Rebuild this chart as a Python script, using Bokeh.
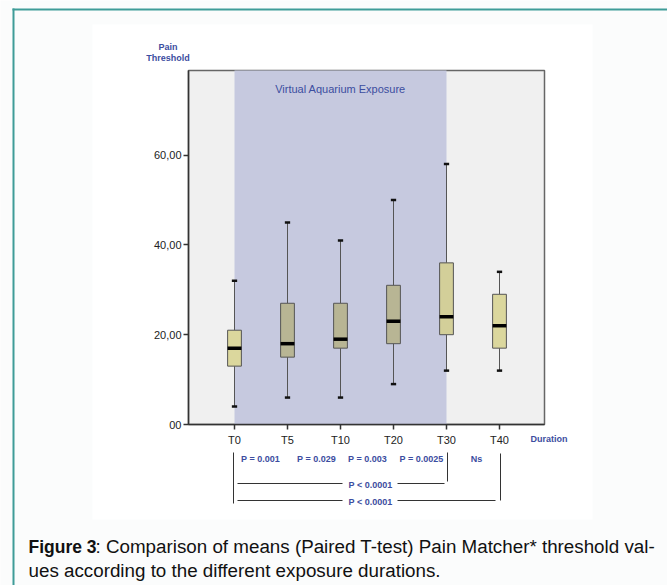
from bokeh.plotting import figure
from bokeh.models import Range1d, Label, BoxAnnotation, Arrow, FixedTicker, LinearAxis
from bokeh.embed import file_html
from bokeh.resources import INLINE

# ---- data ----
durations = ["T0", "T5", "T10", "T20", "T30", "T40"]
whisker_low = [4, 6, 6, 9, 12, 12]
q1 = [13, 15, 17, 18, 20, 17]
median = [17, 18, 19, 23, 24, 22]
q3 = [21, 27, 27, 31, 36, 29]
whisker_high = [32, 45, 41, 50, 58, 34]
box_colors = ["#dbd79d", "#b8b594", "#b8b594", "#b8b594", "#d3cf99", "#dbd79d"]
y_ticks = [0, 20, 40, 60]
y_tick_labels = ["00", "20,00", "40,00", "60,00"]
pairwise_p = ["P = 0.001", "P = 0.029", "P = 0.003", "P = 0.0025", "Ns"]
overall_p = ["P < 0.0001", "P < 0.0001"]
exposure_start, exposure_end = "T0", "T30"

# ---- layout constants (pixels of the 667x585 page) ----
W, H = 667, 585
PX_PER_CAT = 53.0
PX_PER_UNIT = 4.49
X0_PX, Y0_PX = 234, 424          # page position of T0 / value 0
pos = list(range(len(durations)))
xi = dict(zip(durations, pos))
pair_label_px = [260, 316, 367, 421, 476]

x_lo = -X0_PX / PX_PER_CAT
x_hi = (W - X0_PX) / PX_PER_CAT
y_lo = -(H - Y0_PX) / PX_PER_UNIT
y_hi = Y0_PX / PX_PER_UNIT
plot_left = (188 - X0_PX) / PX_PER_CAT
plot_right = (544 - X0_PX) / PX_PER_CAT
plot_top = (Y0_PX - 70) / PX_PER_UNIT

BLUE = "#3c4da0"
FONT = "'Liberation Sans', Arial, sans-serif"

p = figure(x_range=Range1d(x_lo, x_hi), y_range=Range1d(y_lo, y_hi),
           width=W, height=H, output_backend="svg", toolbar_location=None,
           x_axis_type=None, y_axis_type=None,
           min_border=0, min_border_left=0, min_border_right=0,
           min_border_top=0, min_border_bottom=0)
p.background_fill_color = "#fbfcfc"
p.border_fill_color = "#fbfcfc"
p.outline_line_color = None
p.grid.visible = False

# figure panel (slightly whiter) and teal frame
p.add_layout(BoxAnnotation(left=92, right=592, top=H - 24, bottom=H - 519,
                           left_units="screen", right_units="screen",
                           top_units="screen", bottom_units="screen",
                           fill_color="#ffffff", fill_alpha=1, line_color=None, level="underlay"))
p.add_layout(BoxAnnotation(left=12, right=W, top=H - 8, bottom=H - 10,
                           left_units="screen", right_units="screen",
                           top_units="screen", bottom_units="screen",
                           fill_color="#3f9c98", fill_alpha=1, line_color=None))
p.add_layout(BoxAnnotation(left=12, right=14, top=H - 8, bottom=0,
                           left_units="screen", right_units="screen",
                           top_units="screen", bottom_units="screen",
                           fill_color="#3f9c98", fill_alpha=1, line_color=None))

# plot area + exposure shading
p.quad(left=[plot_left], right=[plot_right], bottom=[0], top=[plot_top],
       fill_color="#f0f0f0", line_color="#666666", line_width=1.5)
p.quad(left=[xi[exposure_start]], right=[xi[exposure_end]], bottom=[0], top=[plot_top],
       fill_color="#c6c9df", line_color=None)

# whiskers
p.segment(x0=pos, y0=whisker_low, x1=pos, y1=q1, line_color="#555555", line_width=1)
p.segment(x0=pos, y0=q3, x1=pos, y1=whisker_high, line_color="#555555", line_width=1)
p.rect(x=pos, y=whisker_low, width=0.1, height=2.5, height_units="screen",
       fill_color="#111111", line_color=None)
p.rect(x=pos, y=whisker_high, width=0.1, height=2.5, height_units="screen",
       fill_color="#111111", line_color=None)
# boxes
p.vbar(x=pos, width=0.26, bottom=q1, top=q3, fill_color=box_colors,
       line_color="#555555", line_width=1)
p.rect(x=pos, y=median, width=0.26, height=3.5, height_units="screen",
       fill_color="#000000", line_color=None)

# axes at fixed locations
yax = LinearAxis(fixed_location=plot_left, bounds=(0, plot_top),
                 ticker=FixedTicker(ticks=y_ticks),
                 major_label_overrides=dict(zip(y_ticks, y_tick_labels)))
xax = LinearAxis(fixed_location=0, bounds=(plot_left, plot_right),
                 ticker=FixedTicker(ticks=pos),
                 major_label_overrides=dict(zip(pos, durations)))
for ax in (xax, yax):
    ax.axis_line_color = "#333333"
    ax.axis_line_width = 1.5
    ax.major_tick_line_color = "#333333"
    ax.major_tick_line_width = 1.5
    ax.major_tick_in = 0
    ax.major_tick_out = 5
    ax.minor_tick_line_color = None
    ax.major_label_text_font = FONT
    ax.major_label_text_font_size = "11px"
    ax.major_label_text_color = "#222222"
    ax.major_label_standoff = 2
xax.major_label_standoff = 4
p.add_layout(yax, "left")
p.add_layout(xax, "below")


def lab(text, x, y, size="9px", style="bold", color=BLUE, align="center",
        baseline="middle", xu="screen"):
    """x in page px (or data when xu='data'); y in page px from top."""
    p.add_layout(Label(x=x, y=H - y, x_units=xu, y_units="screen", text=text,
                       text_font=FONT, text_font_size=size, text_font_style=style,
                       text_color=color, text_align=align, text_baseline=baseline))


def seg(x0, y0, x1, y1, color="#333333", w=1):
    p.add_layout(Arrow(end=None, x_start=x0, y_start=H - y0, x_end=x1, y_end=H - y1,
                       start_units="screen", end_units="screen",
                       line_color=color, line_width=w))


lab("Pain", 167.5, 46)
lab("Threshold", 167.5, 57)
lab("Virtual Aquarium Exposure", 340, 88, size="11px", style="normal")
lab("Duration", 530, 438, align="left")

for t, xpx in zip(pairwise_p, pair_label_px):
    lab(t, xpx, 458, size="9px")
lab(overall_p[0], 370, 484, size="9px")
lab(overall_p[1], 370, 501, size="9px")

seg(233, 452, 233, 503)
seg(447, 452, 447, 481)
seg(500, 453, 500, 500)
seg(237, 483, 342, 483)
seg(397, 483, 444, 483)
seg(237, 500, 342, 500)
seg(397, 500, 495, 500)

# caption
lab("Figure 3", 28, 546, size="17.5px", style="bold", color="#111111", align="left")
lab(": Comparison of means (Paired T-test) Pain Matcher* threshold val-", 95, 546,
    size="18.8px", style="normal", color="#111111", align="left")
lab("ues according to the different exposure durations.", 28, 570,
    size="18.8px", style="normal", color="#111111", align="left")

open("out.html", "w").write(file_html(p, INLINE))
